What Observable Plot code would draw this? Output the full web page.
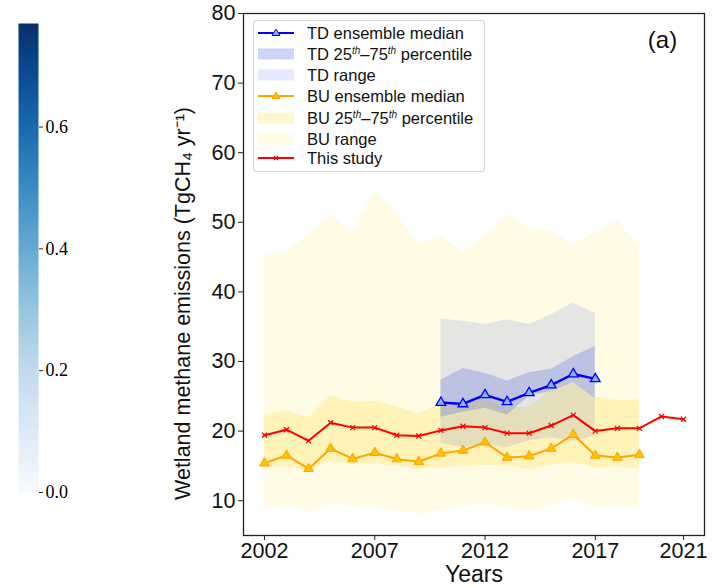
<!DOCTYPE html>
<html><head><meta charset="utf-8">
<script src="https://cdn.jsdelivr.net/npm/d3@7"></script>
<script src="https://cdn.jsdelivr.net/npm/@observablehq/plot@0.6"></script>
<style>
body{margin:0;background:#fff;font-family:"Liberation Sans",Arial,sans-serif;}
#wrap{position:relative;width:712px;height:587px;overflow:hidden;background:#fff;}
#cbar,#main{position:absolute;left:0;top:0;}
#legend{position:absolute;left:253px;top:20px;width:230px;height:150px;border:1px solid #d4d4d4;border-radius:3px;background:rgba(255,255,255,0.85);color:#111;font-size:16.5px;}
.row{position:absolute;left:0;height:20px;width:230px;}
.row svg{position:absolute;left:0;top:0;}
.row span{position:absolute;left:53px;top:0;line-height:20px;white-space:nowrap;}
sup{font-size:10px;font-style:italic;vertical-align:6px;line-height:0;}
</style>
</head><body>
<div id="wrap"><div id="cbar"></div><div id="main"></div><div id="legend"></div></div>
<script>
// ---- data ----
const years = [2002,2003,2004,2005,2006,2007,2008,2009,2010,2011,2012,2013,2014,2015,2016,2017,2018,2019,2020,2021];
const thisStudy = [19.4,20.2,18.6,21.2,20.5,20.5,19.4,19.3,20.1,20.7,20.5,19.7,19.7,20.8,22.3,20.0,20.4,20.4,22.1,21.7];

const buYears = [2002,2003,2004,2005,2006,2007,2008,2009,2010,2011,2012,2013,2014,2015,2016,2017,2018,2019];
const buMedian = [15.4,16.5,14.6,17.5,16.0,16.9,16.0,15.6,16.8,17.2,18.4,16.2,16.4,17.5,19.5,16.5,16.2,16.6];
const buP25 = [14.7,14.9,14.2,15.6,15.2,15.3,14.9,14.5,14.7,14.9,15.1,15.0,14.4,15.1,15.5,14.7,14.9,14.5];
const buP75 = [22.3,22.9,21.9,25.1,24.1,24.3,23.5,22.5,23.9,24.4,24.6,23.3,23.4,25.9,27.0,24.9,24.4,24.5];
const buMin = [8.9,9.4,8.3,9.6,9.1,9.0,8.5,8.1,8.6,9.1,9.6,9.1,8.4,9.3,10.4,9.1,9.4,8.9];
const buMax = [45.5,45.6,48.2,51.2,48.4,54.5,51.2,46.7,48.0,45.7,47.9,51.0,49.0,48.7,46.8,48.5,50.2,46.7];

const tdYears = [2010,2011,2012,2013,2014,2015,2016,2017];
const tdMedian = [24.1,23.9,25.2,24.2,25.5,26.6,28.2,27.5];
const tdP25 = [22.0,22.7,23.3,22.3,25.0,25.7,27.0,24.7];
const tdP75 = [27.3,29.0,28.3,27.2,28.4,28.9,30.7,32.2];
const tdMin = [18.3,17.6,18.1,17.6,18.6,19.0,18.5,19.3];
const tdMax = [36.1,35.8,35.3,36.0,35.3,36.7,38.4,36.9];

const xTicks = [2002,2007,2012,2017,2021];
const yTicks = [10,20,30,40,50,60,70,80];
const cbarTicks = [0.0,0.2,0.4,0.6];
const cbarMax = 0.77;

// ---- tables ----
const study = years.map((year,i)=>({year, value: thisStudy[i]}));
const bu = buYears.map((year,i)=>({year, median: buMedian[i], p25: buP25[i], p75: buP75[i], min: buMin[i], max: buMax[i]}));
const td = tdYears.map((year,i)=>({year, median: tdMedian[i], p25: tdP25[i], p75: tdP75[i], min: tdMin[i], max: tdMax[i]}));

const SANS = '"Liberation Sans", Arial, sans-serif';
const TD = "#0028dc", BU = "gold";

const main = Plot.plot({
  width: 712, height: 587,
  marginLeft: 243, marginRight: 8, marginTop: 13, marginBottom: 52,
  style: {fontFamily: SANS, background: "transparent", color: "#111"},
  x: {domain: [2001.05, 2021.95]},
  y: {domain: [5, 80]},
  marks: [
    Plot.areaY(bu, {x: "year", y1: "min", y2: "max", fill: BU, fillOpacity: 0.1}),
    Plot.areaY(bu, {x: "year", y1: "p25", y2: "p75", fill: BU, fillOpacity: 0.2}),
    Plot.areaY(td, {x: "year", y1: "min", y2: "max", fill: TD, fillOpacity: 0.1}),
    Plot.areaY(td, {x: "year", y1: "p25", y2: "p75", fill: TD, fillOpacity: 0.18}),
    Plot.line(bu, {x: "year", y: "median", stroke: "orange", strokeWidth: 2}),
    Plot.dot(bu, {x: "year", y: "median", symbol: "triangle", r: 3.6, fill: "#ffc000", stroke: "orange", strokeWidth: 1}),
    Plot.line(td, {x: "year", y: "median", stroke: "blue", strokeWidth: 2.4}),
    Plot.dot(td, {x: "year", y: "median", symbol: "triangle", r: 3.6, fill: "#8ab4ff", stroke: "blue", strokeWidth: 1.3}),
    Plot.line(study, {x: "year", y: "value", stroke: "red", strokeWidth: 2}),
    Plot.dot(study, {x: "year", y: "value", symbol: "times", r: 2.4, stroke: "red", strokeWidth: 1.2}),
    Plot.frame({stroke: "#222", strokeWidth: 1.3}),
    Plot.axisX({ticks: xTicks, tickFormat: d => String(d), tickSize: 5, tickPadding: 2, fontSize: 21.5, label: null, stroke: "#222"}),
    Plot.axisY({ticks: yTicks, tickSize: 5, tickPadding: 3, fontSize: 21.5, label: null, stroke: "#222"}),
    Plot.text(["Years"], {frameAnchor: "bottom", dy: 46, fontSize: 23, fill: "#111"}),
    Plot.text(["Wetland methane emissions (TgCH₄ yr⁻¹)"], {frameAnchor: "left", textAnchor: "middle", dx: -60, dy: 29, rotate: -90, fontSize: 21.5, fill: "#111"}),
    Plot.text(["(a)"], {frameAnchor: "top-right", textAnchor: "middle", lineAnchor: "middle", dx: -42, dy: 27, fontSize: 24, fill: "#111"})
  ]
});
document.getElementById("main").appendChild(main);

const cbar = Plot.plot({
  width: 80, height: 520,
  marginLeft: 18, marginRight: 42, marginTop: 23, marginBottom: 28,
  style: {fontFamily: '"Liberation Serif", "Times New Roman", serif', background: "transparent"},
  x: {domain: [0, 1], axis: null},
  y: {domain: [0, cbarMax]},
  color: {type: "linear", scheme: "blues", domain: [0, cbarMax]},
  marks: [
    Plot.raster({x1: 0, x2: 1, y1: 0, y2: cbarMax, width: 2, height: 300, fill: (x, y) => y, interpolate: null}),
    Plot.axisY({anchor: "right", ticks: cbarTicks, tickFormat: d3.format(".1f"), tickSize: 4, tickPadding: 3, fontSize: 18, label: null, stroke: "#222"})
  ]
});
document.getElementById("cbar").appendChild(cbar);

// ---- legend ----
const rows = [
  {y: 1.7, kind: "line", color: "blue", mfill: "#8ab4ff", html: "TD ensemble median"},
  {y: 23.3, kind: "patch", color: TD, op: 0.2, html: "TD 25<sup>th</sup>–75<sup>th</sup> percentile"},
  {y: 44, kind: "patch", color: TD, op: 0.1, html: "TD range"},
  {y: 65, kind: "line", color: "orange", mfill: "#ffc000", html: "BU ensemble median"},
  {y: 87, kind: "patch", color: BU, op: 0.2, html: "BU 25<sup>th</sup>–75<sup>th</sup> percentile"},
  {y: 107.7, kind: "patch", color: BU, op: 0.1, html: "BU range"},
  {y: 127.3, kind: "x", color: "red", html: "This study"}
];
const leg = document.getElementById("legend");
for (const r of rows) {
  const d = document.createElement("div");
  d.className = "row"; d.style.top = r.y + "px";
  let sw = "";
  if (r.kind === "patch") sw = `<rect x="4" y="4.5" width="36" height="11" fill="${r.color}" fill-opacity="${r.op}"/>`;
  else if (r.kind === "line") sw = `<line x1="4" x2="40" y1="10" y2="10" stroke="${r.color}" stroke-width="2"/><polygon points="22,6 26,12.5 18,12.5" fill="${r.mfill}" stroke="${r.color}" stroke-width="1"/>`;
  else sw = `<line x1="4" x2="40" y1="10" y2="10" stroke="${r.color}" stroke-width="2"/><path d="M20,8L24,12M24,8L20,12" stroke="${r.color}" stroke-width="1.2"/>`;
  d.innerHTML = `<svg width="44" height="20">${sw}</svg><span>${r.html}</span>`;
  leg.appendChild(d);
}
</script>
</body></html>
